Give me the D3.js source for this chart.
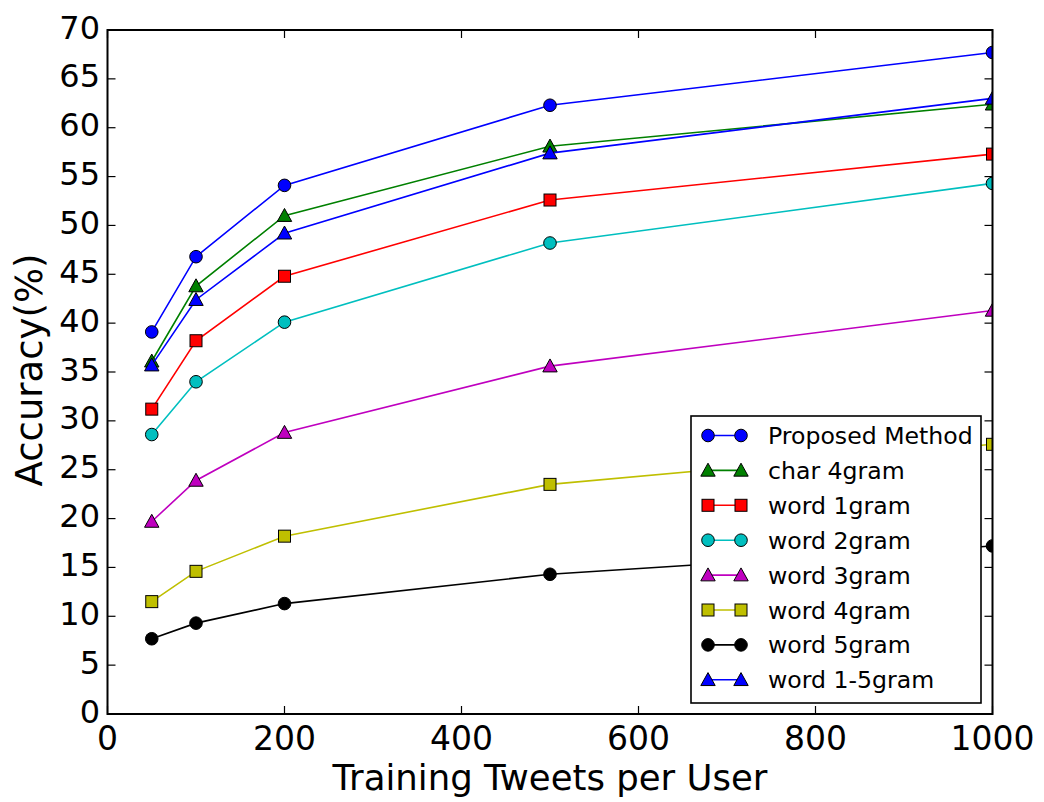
<!DOCTYPE html>
<html>
<head>
<meta charset="utf-8">
<script src="https://cdn.jsdelivr.net/npm/d3@7"></script>
<style>
  html, body { margin: 0; padding: 0; background: #fff; }
  svg { display: block; font-family: "DejaVu Sans", sans-serif; }
</style>
</head>
<body>
<svg id="chart" width="1044" height="802"></svg>
<script>
// Training tweets per user (x positions of every series)
const tweetsPerUser = [50, 100, 200, 500, 1000];

// Accuracy (%) per method
const proposedMethod = [39.1, 46.8, 54.1, 62.3, 67.7];
const char4gram      = [36.1, 43.8, 51.0, 58.1, 62.4];
const word1gram      = [31.2, 38.2, 44.8, 52.6, 57.3];
const word2gram      = [28.6, 34.0, 40.1, 48.2, 54.3];
const word3gram      = [19.7, 23.9, 28.8, 35.6, 41.3];
const word4gram      = [11.5, 14.6, 18.2, 23.5, 27.6];
const word5gram      = [7.7, 9.3, 11.3, 14.3, 17.2];
const word1to5gram   = [35.7, 42.4, 49.2, 57.4, 63.0];

const seriesNames = ["Proposed Method", "char 4gram", "word 1gram", "word 2gram",
                     "word 3gram", "word 4gram", "word 5gram", "word 1-5gram"];
const seriesValues = [proposedMethod, char4gram, word1gram, word2gram,
                      word3gram, word4gram, word5gram, word1to5gram];
const seriesColors = ["#0000ff", "#008000", "#ff0000", "#00bfbf",
                      "#bf00bf", "#bfbf00", "#000000", "#0000ff"];
const seriesMarkers = ["circle", "triangle", "square", "circle",
                       "triangle", "square", "circle", "triangle"];

const xTicks = [0, 200, 400, 600, 800, 1000];
const yTicks = [0, 5, 10, 15, 20, 25, 30, 35, 40, 45, 50, 55, 60, 65, 70];

const plot = { left: 107.5, right: 992.5, top: 30, bottom: 714 };
const svg = d3.select("#chart");

const x = d3.scaleLinear().domain([0, 1000]).range([plot.left, plot.right]);
const y = d3.scaleLinear().domain([0, 70]).range([plot.bottom, plot.top]);

svg.append("defs").append("clipPath").attr("id", "plot-clip")
  .append("rect")
  .attr("x", plot.left).attr("y", plot.top)
  .attr("width", plot.right - plot.left).attr("height", plot.bottom - plot.top);

// marker shapes
function drawMarker(g, type, cx, cy, color) {
  if (type === "circle") {
    g.append("circle").attr("cx", cx).attr("cy", cy).attr("r", 6.3)
      .attr("fill", color).attr("stroke", "#000").attr("stroke-width", 1);
  } else if (type === "square") {
    g.append("rect").attr("x", cx - 6).attr("y", cy - 6).attr("width", 12).attr("height", 12)
      .attr("fill", color).attr("stroke", "#000").attr("stroke-width", 1);
  } else {
    const s = 7.2;
    g.append("path")
      .attr("d", `M${cx},${cy - s} L${cx + s},${cy + s * 0.8} L${cx - s},${cy + s * 0.8} Z`)
      .attr("fill", color).attr("stroke", "#000").attr("stroke-width", 1);
  }
}

// data lines and markers
const dataLayer = svg.append("g").attr("clip-path", "url(#plot-clip)");
const line = d3.line().x(d => x(d[0])).y(d => y(d[1]));
seriesValues.forEach((vals, i) => {
  const pts = tweetsPerUser.map((t, j) => [t, vals[j]]);
  const g = dataLayer.append("g");
  g.append("path").attr("d", line(pts)).attr("fill", "none")
    .attr("stroke", seriesColors[i]).attr("stroke-width", 1.6);
  pts.forEach(p => drawMarker(g, seriesMarkers[i], x(p[0]), y(p[1]), seriesColors[i]));
});

// inward ticks on all four sides
const tickLen = 8;
const ticks = svg.append("g").attr("stroke", "#000").attr("stroke-width", 1.2);
xTicks.forEach(t => {
  ticks.append("line").attr("x1", x(t)).attr("x2", x(t)).attr("y1", plot.bottom).attr("y2", plot.bottom - tickLen);
  ticks.append("line").attr("x1", x(t)).attr("x2", x(t)).attr("y1", plot.top).attr("y2", plot.top + tickLen);
});
yTicks.forEach(t => {
  ticks.append("line").attr("x1", plot.left).attr("x2", plot.left + tickLen).attr("y1", y(t)).attr("y2", y(t));
  ticks.append("line").attr("x1", plot.right).attr("x2", plot.right - tickLen).attr("y1", y(t)).attr("y2", y(t));
});

// frame
svg.append("rect")
  .attr("x", plot.left).attr("y", plot.top)
  .attr("width", plot.right - plot.left).attr("height", plot.bottom - plot.top)
  .attr("fill", "none").attr("stroke", "#000").attr("stroke-width", 2);

// tick labels
svg.append("g").selectAll("text").data(xTicks).join("text")
  .attr("x", d => x(d)).attr("y", 750)
  .attr("text-anchor", "middle").attr("font-size", 33).attr("fill", "#000")
  .text(d => d);
svg.append("g").selectAll("text").data(yTicks).join("text")
  .attr("x", 100).attr("y", d => y(d) + 8.5)
  .attr("text-anchor", "end").attr("font-size", 32).attr("fill", "#000")
  .text(d => d);

// axis titles
svg.append("text")
  .attr("x", (plot.left + plot.right) / 2).attr("y", 790)
  .attr("text-anchor", "middle").attr("font-size", 35.5).attr("fill", "#000")
  .text("Training Tweets per User");
svg.append("text")
  .attr("transform", `translate(42,${(plot.top + plot.bottom) / 2 - 2}) rotate(-90)`)
  .attr("text-anchor", "middle").attr("font-size", 37).attr("fill", "#000")
  .text("Accuracy(%)");

// legend
const legend = svg.append("g");
legend.append("rect")
  .attr("x", 691).attr("y", 416).attr("width", 290).attr("height", 287)
  .attr("fill", "#fff").attr("stroke", "#000").attr("stroke-width", 1.6);
seriesNames.forEach((name, i) => {
  const cy = 435.5 + i * 34.9;
  const g = legend.append("g");
  g.append("line").attr("x1", 708).attr("x2", 741).attr("y1", cy).attr("y2", cy)
    .attr("stroke", seriesColors[i]).attr("stroke-width", 1.6);
  drawMarker(g, seriesMarkers[i], 708, cy, seriesColors[i]);
  drawMarker(g, seriesMarkers[i], 741, cy, seriesColors[i]);
  g.append("text").attr("x", 768).attr("y", cy + 8.5)
    .attr("font-size", 23.6).attr("fill", "#000").text(name);
});
</script>
</body>
</html>
